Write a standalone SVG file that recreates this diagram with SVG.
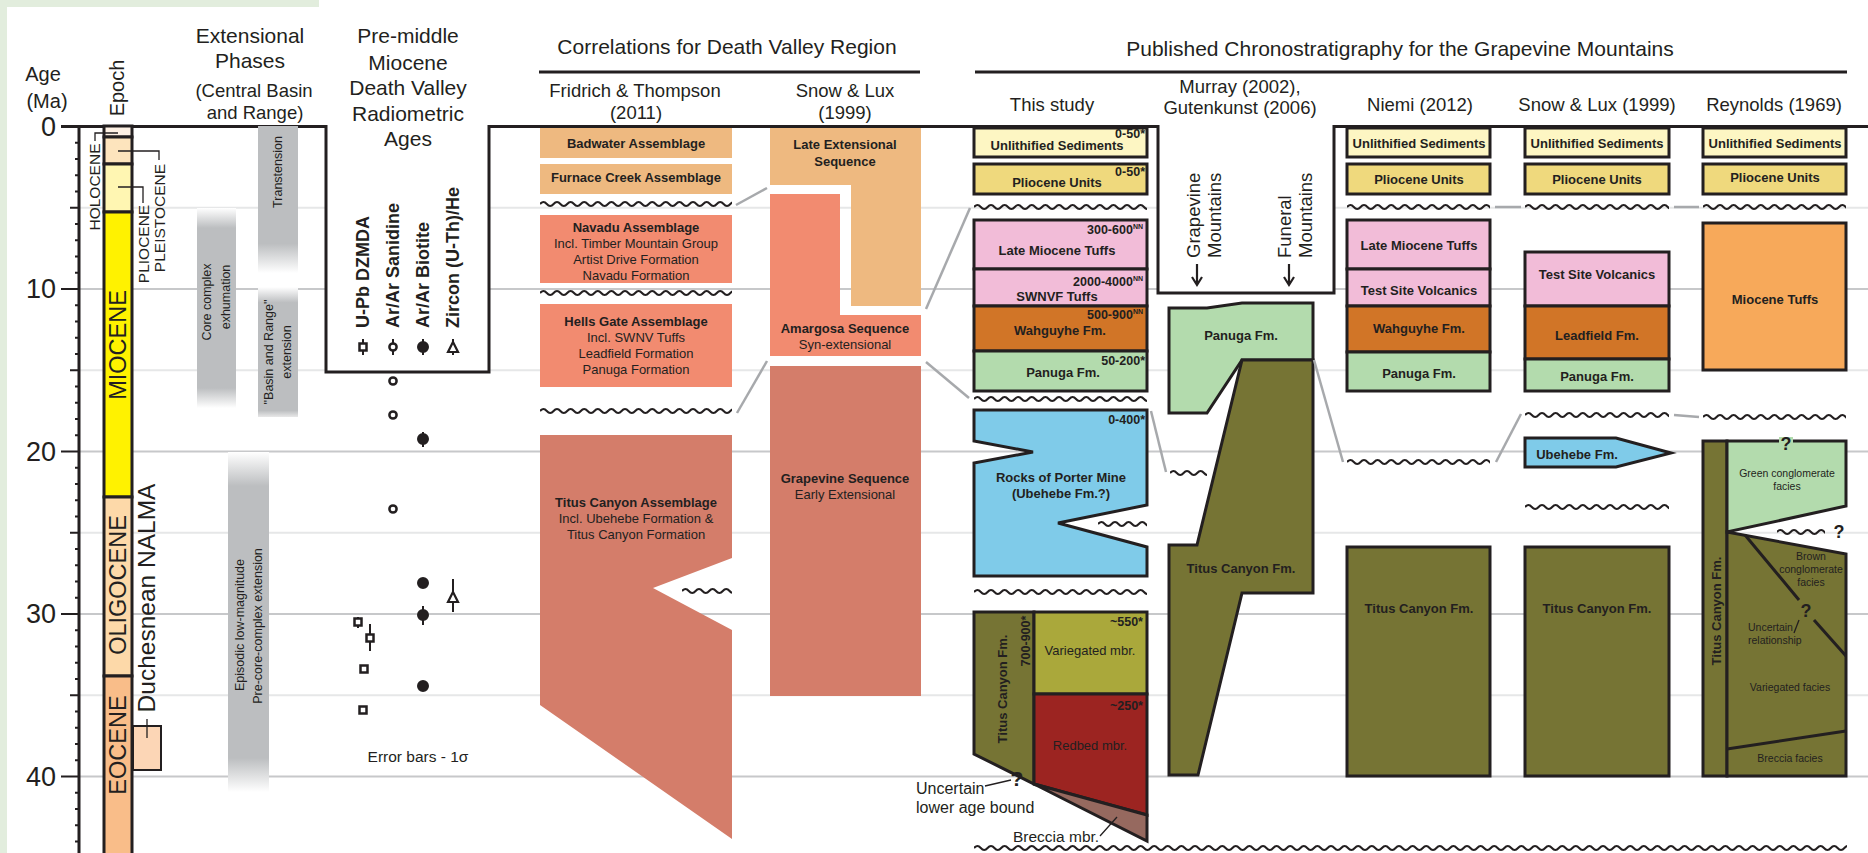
<svg xmlns="http://www.w3.org/2000/svg" xmlns:xlink="http://www.w3.org/1999/xlink" width="1868" height="853" viewBox="0 0 1868 853">
<style>
text{font-family:"Liberation Sans",Arial,sans-serif;fill:#231f20;dominant-baseline:central}
.b{font-weight:bold}
.m{text-anchor:middle}
.e{text-anchor:end}
.h21{font-size:21px}
.h18{font-size:18.5px}
.l13{font-size:13px}
.n12{font-size:12.5px;font-weight:bold;text-anchor:end}
.s10{font-size:10.5px}
.u{stroke:#231f20;stroke-width:3}
.ln{fill:none;stroke:#231f20;stroke-width:1.3}
.wv{fill:none;stroke:#231f20;stroke-width:2}
.cor{stroke:#a7a9ac;stroke-width:2.5}
.g5{stroke:#e6e7e8;stroke-width:2}
.g10{stroke:#c7c8ca;stroke-width:2}
.unl{fill:#fdf6c3}.pli{fill:#efd97d}.pnk{fill:#f2bcd8}.wah{fill:#d17527}.pan{fill:#b3dbad}
.blu{fill:#7fcbe9}.oli{fill:#767434}.var{fill:#aaa83b}.red{fill:#9c2421}.brc{fill:#96695f}
</style>
<defs>
<path id="wv" class="wv" d="M0 0q3.4-4 6.8 0t6.8 0t6.8 0t6.8 0t6.8 0t6.8 0t6.8 0t6.8 0t6.8 0t6.8 0t6.8 0t6.8 0t6.8 0t6.8 0t6.8 0t6.8 0t6.8 0t6.8 0t6.8 0t6.8 0t6.8 0t6.8 0t6.8 0t6.8 0t6.8 0t6.8 0t6.8 0t6.8 0t6.8 0t6.8 0t6.8 0t6.8 0t6.8 0t6.8 0t6.8 0t6.8 0t6.8 0t6.8 0t6.8 0t6.8 0t6.8 0t6.8 0t6.8 0t6.8 0t6.8 0t6.8 0t6.8 0t6.8 0t6.8 0t6.8 0t6.8 0t6.8 0t6.8 0t6.8 0t6.8 0t6.8 0t6.8 0t6.8 0t6.8 0t6.8 0t6.8 0t6.8 0t6.8 0t6.8 0t6.8 0t6.8 0t6.8 0t6.8 0t6.8 0t6.8 0t6.8 0t6.8 0t6.8 0t6.8 0t6.8 0t6.8 0t6.8 0t6.8 0t6.8 0t6.8 0t6.8 0t6.8 0t6.8 0t6.8 0t6.8 0t6.8 0t6.8 0t6.8 0t6.8 0t6.8 0t6.8 0t6.8 0t6.8 0t6.8 0t6.8 0t6.8 0t6.8 0t6.8 0t6.8 0t6.8 0t6.8 0t6.8 0t6.8 0t6.8 0t6.8 0t6.8 0t6.8 0t6.8 0t6.8 0t6.8 0t6.8 0t6.8 0t6.8 0t6.8 0t6.8 0t6.8 0t6.8 0t6.8 0t6.8 0t6.8 0t6.8 0t6.8 0t6.8 0t6.8 0t6.8 0t6.8 0t6.8 0t6.8 0t6.8 0"/>
<linearGradient id="fadeBoth" x1="0" y1="0" x2="0" y2="1">
<stop offset="0" stop-color="#ffffff"/><stop offset="0.1" stop-color="#bcbec0"/><stop offset="0.9" stop-color="#bcbec0"/><stop offset="1" stop-color="#ffffff"/>
</linearGradient>
<linearGradient id="fadeEnd" x1="0" y1="0" x2="0" y2="1">
<stop offset="0" stop-color="#bcbec0"/><stop offset="0.8" stop-color="#bcbec0"/><stop offset="1" stop-color="#ffffff"/>
</linearGradient>
<linearGradient id="fadeIn" x1="0" y1="0" x2="0" y2="1">
<stop offset="0" stop-color="#ffffff"/><stop offset="0.12" stop-color="#bcbec0"/><stop offset="0.95" stop-color="#bcbec0"/><stop offset="1" stop-color="#e8e8e8"/>
</linearGradient>
</defs>

<rect width="1868" height="853" fill="#ffffff"/>
<!-- page margin tint -->
<rect x="0" y="0" width="319" height="7" fill="#e2eddd"/>
<rect x="0" y="0" width="7" height="853" fill="#e2eddd"/>

<!-- age grid -->
<g id="grid">
<path class="g5" d="M79 207.75H1868M79 370.25H1868M79 532.75H1868M79 695.25H1868"/>
<path class="g10" d="M79 289H1868M79 451.5H1868M79 614H1868M79 776.5H1868"/>
<rect x="326" y="126" width="163" height="246" fill="#ffffff"/>
<rect x="1158" y="126" width="176" height="167" fill="#ffffff"/>
</g>

<!-- age axis -->
<g id="age-axis">
<path class="u" stroke-width="2.5" d="M79 126V853"/>
<path stroke="#231f20" stroke-width="2" d="M75 142.75h4M75 159h4M75 175.25h4M75 191.5h4M70 207.75h9M75 224h4M75 240.25h4M75 256.5h4M75 272.75h4M61 289h18M75 305.25h4M75 321.5h4M75 337.75h4M75 354h4M70 370.25h9M75 386.5h4M75 402.75h4M75 419h4M75 435.25h4M61 451.5h18M75 467.75h4M75 484h4M75 500.25h4M75 516.5h4M70 532.75h9M75 549h4M75 565.25h4M75 581.5h4M75 597.75h4M61 614h18M75 630.25h4M75 646.5h4M75 662.75h4M75 679h4M70 695.25h9M75 711.5h4M75 727.75h4M75 744h4M75 760.25h4M61 776.5h18M75 792.75h4M75 809h4M75 825.25h4M75 841.5h4"/>
<text x="43" y="74" class="m" font-size="20">Age</text>
<text x="47" y="101" class="m" font-size="20">(Ma)</text>
<g font-size="27" class="e">
<text x="56" y="127" class="e">0</text>
<text x="56" y="289" class="e">10</text>
<text x="56" y="452" class="e">20</text>
<text x="56" y="614" class="e">30</text>
<text x="56" y="777" class="e">40</text>
</g>
</g>

<!-- frame line at 0 Ma with the header boxes -->
<path fill="none" stroke="#231f20" stroke-width="3" d="M61 126.5H326V372H489V126.5H1158V293H1334V126.5H1868"/>
<path stroke="#231f20" stroke-width="3" d="M539 72H920M975 72H1847"/>

<!-- epoch column -->
<g id="epochs">
<text transform="translate(117 88) rotate(-90)" class="m" font-size="20">Epoch</text>
<rect x="104" y="126" width="28" height="11" fill="#fef1e4" class="u"/>
<rect x="104" y="137" width="28" height="27" fill="#fde4bd" class="u"/>
<rect x="104" y="164" width="28" height="48" fill="#fff6b2" class="u"/>
<rect x="104" y="212" width="28" height="285" fill="#fff200" class="u"/>
<rect x="104" y="497" width="28" height="179" fill="#fdd9a9" class="u"/>
<rect x="104" y="676" width="28" height="190" fill="#f9bd89" class="u"/>
<text transform="translate(118 345) rotate(-90)" class="m" font-size="23.5">MIOCENE</text>
<text transform="translate(118 585) rotate(-90)" class="m" font-size="23.5">OLIGOCENE</text>
<text transform="translate(118 745) rotate(-90)" class="m" font-size="23.5">EOCENE</text>
<text transform="translate(94 187) rotate(-90)" class="m" font-size="15.5">HOLOCENE</text>
<text transform="translate(143 244) rotate(-90)" class="m" font-size="15.5">PLIOCENE</text>
<text transform="translate(159.5 218) rotate(-90)" class="m" font-size="15.5">PLEISTOCENE</text>
<path class="ln" d="M95 141V133H118M118 151H159V160M118 187H143V203"/>
<rect x="133" y="726" width="28" height="44" fill="#fcd6b6" stroke="#231f20" stroke-width="2"/>
<path class="ln" d="M147 719V738"/>
<text transform="translate(146 598) rotate(-90)" class="m" font-size="24.5">Duchesnean NALMA</text>
</g>

<!-- extensional phases -->
<g id="extensional-phases">
<text x="250" y="35" class="m h21">Extensional</text>
<text x="250" y="60" class="m h21">Phases</text>
<text x="254" y="90" class="m h18">(Central Basin</text>
<text x="255" y="112" class="m h18">and Range)</text>
<rect x="258" y="126" width="40" height="147" fill="url(#fadeEnd)"/>
<text transform="translate(278 172) rotate(-90)" class="m" font-size="12.5">Transtension</text>
<rect x="258" y="287" width="40" height="130" fill="url(#fadeIn)"/>
<text transform="translate(269 352) rotate(-90)" class="m" font-size="12.5">"Basin and Range"</text>
<text transform="translate(287 352) rotate(-90)" class="m" font-size="12.5">extension</text>
<rect x="197" y="208" width="39" height="200" fill="url(#fadeBoth)"/>
<text transform="translate(207 302) rotate(-90)" class="m" font-size="12.5">Core complex</text>
<text transform="translate(226 297) rotate(-90)" class="m" font-size="12.5">exhumation</text>
<rect x="228" y="452" width="41" height="340" fill="url(#fadeBoth)"/>
<text transform="translate(240 625) rotate(-90)" class="m" font-size="12.5">Episodic low-magnitude</text>
<text transform="translate(258 626) rotate(-90)" class="m" font-size="12.5">Pre-core-complex extension</text>
</g>

<!-- radiometric ages -->
<g id="radiometric-ages">
<text x="408" y="35" class="m h21">Pre-middle</text>
<text x="408" y="62" class="m h21">Miocene</text>
<text x="408" y="87" class="m h21">Death Valley</text>
<text x="408" y="113" class="m h21">Radiometric</text>
<text x="408" y="138" class="m h21">Ages</text>
<g font-size="18" class="b">
<text transform="translate(363 328) rotate(-90)" class="b">U-Pb DZMDA</text>
<text transform="translate(393 328) rotate(-90)" class="b">Ar/Ar Sanidine</text>
<text transform="translate(423 328) rotate(-90)" class="b">Ar/Ar Biotite</text>
<text transform="translate(453 328) rotate(-90)" class="b">Zircon (U-Th)/He</text>
</g>
<g stroke="#231f20" stroke-width="2">
<path d="M363 339V355M393 339V355M423 339V355M453 339V355"/>
<rect x="359.5" y="343.5" width="7" height="7" fill="#ffffff" stroke-width="2.5"/>
<circle cx="393" cy="347" r="3.6" fill="#ffffff" stroke-width="2.5"/>
<circle cx="423" cy="347" r="5" fill="#231f20"/>
<path d="M453 342L458 352H448Z" fill="#ffffff" stroke-width="2.2"/>
<circle cx="393" cy="381" r="3.6" fill="#ffffff" stroke-width="2.5"/>
<circle cx="393" cy="415" r="3.6" fill="#ffffff" stroke-width="2.5"/>
<circle cx="393" cy="509" r="3.6" fill="#ffffff" stroke-width="2.5"/>
<path d="M423 432V447M423 606V625M453 579V612M370 624V651M358 617V628"/>
<circle cx="423" cy="439" r="5" fill="#231f20"/>
<circle cx="423" cy="583" r="5" fill="#231f20"/>
<circle cx="423" cy="615" r="5" fill="#231f20"/>
<circle cx="423" cy="686" r="5" fill="#231f20"/>
<path d="M453 592L458 602H448Z" fill="#ffffff" stroke-width="2.2"/>
<rect x="354.5" y="618.5" width="7" height="7" fill="#ffffff" stroke-width="2.5"/>
<rect x="366.5" y="634.5" width="7" height="7" fill="#ffffff" stroke-width="2.5"/>
<rect x="360.5" y="665.5" width="7" height="7" fill="#ffffff" stroke-width="2.5"/>
<rect x="359.5" y="706.5" width="7" height="7" fill="#ffffff" stroke-width="2.5"/>
</g>
<text x="418" y="756" class="m" font-size="15.5">Error bars - 1σ</text>
</g>

<!-- correlations for Death Valley region -->
<g id="correlations-header">
<text x="727" y="46" class="m h21">Correlations for Death Valley Region</text>
<text x="635" y="90" class="m h18">Fridrich &amp; Thompson</text>
<text x="636" y="112" class="m h18">(2011)</text>
<text x="845" y="90" class="m h18">Snow &amp; Lux</text>
<text x="845" y="112" class="m h18">(1999)</text>
</g>
<g id="badwater">
<rect x="540" y="128" width="192" height="30" fill="#eeb980"/>
<text x="636" y="143" class="m b l13">Badwater Assemblage</text>
</g>
<g id="furnace-creek">
<rect x="540" y="164" width="192" height="30" fill="#eeb980"/>
<text x="636" y="177" class="m b l13">Furnace Creek Assemblage</text>
</g>
<g id="navadu">
<rect x="540" y="215" width="192" height="68" fill="#f28b70"/>
<text x="636" y="227" class="m b l13">Navadu Assemblage</text>
<text x="636" y="243" class="m l13">Incl. Timber Mountain Group</text>
<text x="636" y="259" class="m l13">Artist Drive Formation</text>
<text x="636" y="275" class="m l13">Navadu Formation</text>
</g>
<g id="hells-gate">
<rect x="540" y="304" width="192" height="83" fill="#f28b70"/>
<text x="636" y="321" class="m b l13">Hells Gate Assemblage</text>
<text x="636" y="337" class="m l13">Incl. SWNV Tuffs</text>
<text x="636" y="353" class="m l13">Leadfield Formation</text>
<text x="636" y="369" class="m l13">Panuga Formation</text>
</g>
<g id="titus-assemblage">
<polygon points="540,435 732,435 732,558 653,588 732,630 732,839 540,705" fill="#d47d6a"/>
<text x="636" y="502" class="m b l13">Titus Canyon Assemblage</text>
<text x="636" y="518" class="m l13">Incl. Ubehebe Formation &amp;</text>
<text x="636" y="534" class="m l13">Titus Canyon Formation</text>
</g>
<g id="late-extensional">
<polygon points="770,128 921,128 921,306 851,306 851,185 770,185" fill="#eeb980"/>
<text x="845" y="144" class="m b l13">Late Extensional</text>
<text x="845" y="161" class="m b l13">Sequence</text>
</g>
<g id="amargosa">
<polygon points="770,194 840,194 840,315 921,315 921,356 770,356" fill="#f28b70"/>
<text x="845" y="328" class="m b l13">Amargosa Sequence</text>
<text x="845" y="344" class="m l13">Syn-extensional</text>
</g>
<g id="grapevine-seq">
<rect x="770" y="366" width="151" height="330" fill="#d47d6a"/>
<text x="845" y="478" class="m b l13">Grapevine Sequence</text>
<text x="845" y="494" class="m l13">Early Extensional</text>
</g>

<!-- published chronostratigraphy -->
<g id="chrono-header">
<text x="1400" y="48" class="m h21">Published Chronostratigraphy for the Grapevine Mountains</text>
<text x="1052" y="104" class="m h18">This study</text>
<text x="1240" y="86" class="m h18">Murray (2002),</text>
<text x="1240" y="107" class="m h18">Gutenkunst (2006)</text>
<text x="1420" y="104" class="m h18">Niemi (2012)</text>
<text x="1597" y="104" class="m h18">Snow &amp; Lux (1999)</text>
<text x="1774" y="104" class="m h18">Reynolds (1969)</text>
</g>

<!-- this study -->
<g id="ts-unlithified">
<rect x="974" y="128" width="173" height="29" class="u unl"/>
<text x="1145" y="134" class="n12">0-50*</text>
<text x="1057" y="145" class="m b l13">Unlithified Sediments</text>
</g>
<g id="ts-pliocene">
<rect x="974" y="164" width="173" height="30" class="u pli"/>
<text x="1145" y="172" class="n12">0-50*</text>
<text x="1057" y="182" class="m b l13">Pliocene Units</text>
</g>
<g id="ts-late-miocene">
<rect x="974" y="220" width="173" height="49" class="u pnk"/>
<text x="1143" y="230" class="n12">300-600<tspan font-size="7" dy="-4">NN</tspan></text>
<text x="1057" y="250" class="m b l13">Late Miocene Tuffs</text>
</g>
<g id="ts-swnvf">
<rect x="974" y="269" width="173" height="37" class="u pnk"/>
<text x="1143" y="282" class="n12">2000-4000<tspan font-size="7" dy="-4">NN</tspan></text>
<text x="1057" y="296" class="m b l13">SWNVF Tuffs</text>
</g>
<g id="ts-wahguyhe">
<rect x="974" y="306" width="173" height="45" class="u wah"/>
<text x="1143" y="315" class="n12">500-900<tspan font-size="7" dy="-4">NN</tspan></text>
<text x="1060" y="330" class="m b l13">Wahguyhe Fm.</text>
</g>
<g id="ts-panuga">
<rect x="974" y="351" width="173" height="40" class="u pan"/>
<text x="1145" y="361" class="n12">50-200*</text>
<text x="1063" y="372" class="m b l13">Panuga Fm.</text>
</g>
<g id="ts-porter-mine">
<polygon points="974,410 1147,410 1147,505 1058,523 1147,547 1147,576 974,576 974,463 1033,452 974,441" class="u blu"/>
<text x="1145" y="420" class="n12">0-400*</text>
<text x="1061" y="477" class="m b l13">Rocks of Porter Mine</text>
<text x="1061" y="493" class="m b l13">(Ubehebe Fm.?)</text>
</g>
<g id="ts-titus">
<polygon points="974,612 1034,612 1034,784 974,754" class="u oli"/>
<rect x="1034" y="612" width="113" height="82" class="u var"/>
<polygon points="1034,694 1147,694 1147,815 1034,784" class="u red"/>
<polygon points="1034,784 1147,815 1147,841" class="u brc"/>
<text transform="translate(1002 689) rotate(-90)" class="m b l13">Titus Canyon Fm.</text>
<text transform="translate(1026 641) rotate(-90)" class="m" font-size="12.5" font-weight="bold">700-900*</text>
<text x="1143" y="622" class="n12">~550*</text>
<text x="1090" y="650" class="m l13">Variegated mbr.</text>
<text x="1143" y="706" class="n12">~250*</text>
<text x="1090" y="745" class="m l13">Redbed mbr.</text>
<text x="1017" y="778" class="m b" font-size="21">?</text>
<text x="916" y="788" font-size="16">Uncertain</text>
<text x="916" y="807" font-size="16">lower age bound</text>
<text x="1013" y="836" font-size="15.5">Breccia mbr.</text>
<path class="ln" stroke-width="1" d="M985 786L1011 780M1100 836L1117 817"/>
</g>

<!-- Murray / Gutenkunst -->
<g id="murray-labels">
<text transform="translate(1193 258) rotate(-90)" class="h18">Grapevine</text>
<text transform="translate(1214 258) rotate(-90)" class="h18">Mountains</text>
<text transform="translate(1284 258) rotate(-90)" class="h18">Funeral</text>
<text transform="translate(1305 258) rotate(-90)" class="h18">Mountains</text>
<path fill="none" stroke="#231f20" stroke-width="2.2" d="M1197 264V284M1192 277L1197 285L1202 277M1289 264V284M1284 277L1289 285L1294 277"/>
</g>
<g id="murray-panuga">
<polygon points="1169,308 1207,308 1242,303 1313,303 1313,360 1242,360 1207,413 1169,413" class="u pan"/>
<text x="1241" y="335" class="m b l13">Panuga Fm.</text>
</g>
<g id="murray-titus">
<polygon points="1242,360 1313,360 1313,593 1242,593 1198,775 1169,775 1169,545 1197,545" class="u oli"/>
<text x="1241" y="568" class="m b l13">Titus Canyon Fm.</text>
</g>

<!-- Niemi -->
<g id="niemi">
<rect x="1347" y="128" width="143" height="29" class="u unl"/>
<text x="1419" y="143" class="m b l13">Unlithified Sediments</text>
<rect x="1347" y="164" width="143" height="30" class="u pli"/>
<text x="1419" y="179" class="m b l13">Pliocene Units</text>
<rect x="1347" y="220" width="143" height="49" class="u pnk"/>
<text x="1419" y="245" class="m b l13">Late Miocene Tuffs</text>
<rect x="1347" y="269" width="143" height="37" class="u pnk"/>
<text x="1419" y="290" class="m b l13">Test Site Volcanics</text>
<rect x="1347" y="306" width="143" height="46" class="u wah"/>
<text x="1419" y="328" class="m b l13">Wahguyhe Fm.</text>
<rect x="1347" y="352" width="143" height="39" class="u pan"/>
<text x="1419" y="373" class="m b l13">Panuga Fm.</text>
<rect x="1347" y="547" width="143" height="229" class="u oli"/>
<text x="1419" y="608" class="m b l13">Titus Canyon Fm.</text>
</g>

<!-- Snow & Lux 1999 -->
<g id="snow-lux">
<rect x="1525" y="128" width="144" height="29" class="u unl"/>
<text x="1597" y="143" class="m b l13">Unlithified Sediments</text>
<rect x="1525" y="164" width="144" height="30" class="u pli"/>
<text x="1597" y="179" class="m b l13">Pliocene Units</text>
<rect x="1525" y="252" width="144" height="54" class="u pnk"/>
<text x="1597" y="274" class="m b l13">Test Site Volcanics</text>
<rect x="1525" y="306" width="144" height="53" class="u wah"/>
<text x="1597" y="335" class="m b l13">Leadfield Fm.</text>
<rect x="1525" y="359" width="144" height="32" class="u pan"/>
<text x="1597" y="376" class="m b l13">Panuga Fm.</text>
<polygon points="1525,438 1616,438 1671,453 1616,467 1525,467" class="u blu"/>
<text x="1577" y="454" class="m b l13">Ubehebe Fm.</text>
<rect x="1525" y="547" width="144" height="229" class="u oli"/>
<text x="1597" y="608" class="m b l13">Titus Canyon Fm.</text>
</g>

<!-- Reynolds -->
<g id="reynolds">
<rect x="1703" y="128" width="143" height="29" class="u unl"/>
<text x="1775" y="143" class="m b l13">Unlithified Sediments</text>
<rect x="1703" y="164" width="143" height="30" class="u pli"/>
<text x="1775" y="177" class="m b l13">Pliocene Units</text>
<rect x="1703" y="223" width="143" height="147" class="u" fill="#f7a95a"/>
<text x="1775" y="299" class="m b l13">Miocene Tuffs</text>
<rect x="1703" y="441" width="24" height="335" class="u oli"/>
<text transform="translate(1716 611) rotate(-90)" class="m b l13">Titus Canyon Fm.</text>
<polygon points="1727,441 1846,441 1846,506 1727,532" class="u pan"/>
<rect x="1779" y="437" width="14" height="7" fill="#b3dbad"/>
<text x="1786" y="444" class="m b" font-size="18">?</text>
<text x="1787" y="473" class="m s10">Green conglomerate</text>
<text x="1787" y="486" class="m s10">facies</text>
<polygon points="1727,532 1846,554 1846,776 1727,776" class="u oli"/>
<path class="u" fill="none" d="M1745 535L1799 600M1814 620L1846 656M1727 749L1846 731"/>
<text x="1806" y="611" class="m b" font-size="18">?</text>
<text x="1839" y="532" class="m b" font-size="18">?</text>
<text x="1811" y="556" class="m s10">Brown</text>
<text x="1811" y="569" class="m s10">conglomerate</text>
<text x="1811" y="582" class="m s10">facies</text>
<text x="1748" y="627" class="s10">Uncertain</text>
<text x="1748" y="640" class="s10">relationship</text>
<path class="ln" stroke-width="1" d="M1794 633L1799 620"/>
<text x="1790" y="687" class="m s10">Variegated facies</text>
<text x="1790" y="758" class="m s10">Breccia facies</text>
</g>

<!-- unconformities -->
<g id="unconformities">
<svg x="540" y="198" width="192" height="12"><use href="#wv" y="6"/></svg>
<svg x="540" y="287" width="192" height="12"><use href="#wv" y="6"/></svg>
<svg x="540" y="405" width="192" height="12"><use href="#wv" y="6"/></svg>
<svg x="682" y="585" width="50" height="12"><use href="#wv" y="6"/></svg>
<svg x="974" y="201" width="173" height="12"><use href="#wv" y="6"/></svg>
<svg x="974" y="393" width="173" height="12"><use href="#wv" y="6"/></svg>
<svg x="1098" y="518" width="49" height="12"><use href="#wv" y="6"/></svg>
<svg x="974" y="586" width="173" height="12"><use href="#wv" y="6"/></svg>
<svg x="1170" y="467" width="37" height="12"><use href="#wv" y="6"/></svg>
<svg x="1347" y="201" width="143" height="12"><use href="#wv" y="6"/></svg>
<svg x="1347" y="456" width="143" height="12"><use href="#wv" y="6"/></svg>
<svg x="1525" y="201" width="144" height="12"><use href="#wv" y="6"/></svg>
<svg x="1525" y="409" width="144" height="12"><use href="#wv" y="6"/></svg>
<svg x="1525" y="501" width="144" height="12"><use href="#wv" y="6"/></svg>
<svg x="1703" y="201" width="143" height="12"><use href="#wv" y="6"/></svg>
<svg x="1703" y="411" width="143" height="12"><use href="#wv" y="6"/></svg>
<svg x="1777" y="526" width="48" height="12"><use href="#wv" y="6"/></svg>
<svg x="974" y="842" width="873" height="11"><use href="#wv" y="6"/></svg>
</g>

<!-- correlation connectors -->
<g id="connectors" class="cor">
<line x1="736" y1="205" x2="767" y2="188"/>
<line x1="737" y1="413" x2="767" y2="361"/>
<line x1="926" y1="309" x2="970" y2="208"/>
<line x1="926" y1="362" x2="969" y2="398"/>
<line x1="1151" y1="411" x2="1166" y2="472"/>
<line x1="1314" y1="360" x2="1343" y2="462"/>
<line x1="1496" y1="462" x2="1521" y2="414"/>
<line x1="1674" y1="415" x2="1699" y2="417"/>
<line x1="1495" y1="207" x2="1521" y2="207"/>
<line x1="1674" y1="207" x2="1699" y2="207"/>
</g>
</svg>
